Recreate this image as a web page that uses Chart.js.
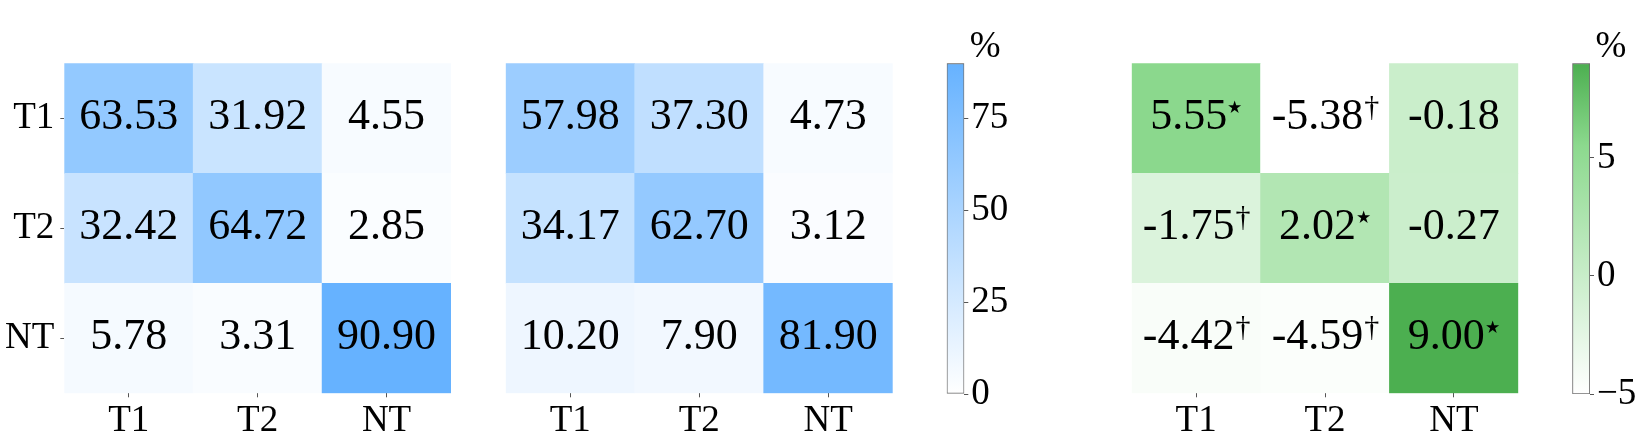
<!DOCTYPE html>
<html>
<head>
<meta charset="utf-8">
<script src="https://cdn.jsdelivr.net/npm/chart.js@4.4.1/dist/chart.umd.min.js"></script>
<style>
  body { margin: 0; background: #fff; }
  #wrap { position: relative; width: 1644px; height: 442px; }
  canvas { position: absolute; top: 0; }
</style>
</head>
<body>
<div id="wrap">
  <canvas id="heatA" width="470" height="442" style="left:0px"></canvas>
  <canvas id="heatB" width="430" height="442" style="left:470px"></canvas>
  <canvas id="barA" width="110" height="442" style="left:930px"></canvas>
  <canvas id="heatD" width="420" height="442" style="left:1110px"></canvas>
  <canvas id="barD" width="94" height="442" style="left:1550px"></canvas>
</div>
<script>
var rows = ["T1", "T2", "NT"];
var cols = ["T1", "T2", "NT"];

var valsA = [[63.53, 31.92, 4.55], [32.42, 64.72, 2.85], [5.78, 3.31, 90.90]];
var valsB = [[57.98, 37.30, 4.73], [34.17, 62.70, 3.12], [10.20, 7.90, 81.90]];
var valsDiff = [[5.55, -5.38, -0.18], [-1.75, 2.02, -0.27], [-4.42, -4.59, 9.00]];
var marksDiff = [["\u22C6", "\u2020", ""], ["\u2020", "\u22C6", ""], ["\u2020", "\u2020", "\u22C6"]];

var blueRange = [0, 90];
var greenRange = [-5, 9];
var blueTicks = [0, 25, 50, 75];
var greenTicks = [-5, 0, 5];

var FONT = '"Liberation Serif", "DejaVu Serif", serif';
var blueStops = [[0, [255, 255, 255]], [1, [102, 178, 255]]];
var greenStops = [[0, [255, 255, 255]], [0.75, [140, 217, 142]], [1, [76, 175, 80]]];

Chart.defaults.font.family = FONT;
Chart.defaults.color = '#000';

function rgb(c) { return 'rgb(' + c.map(Math.round).join(',') + ')'; }

function colorFor(stops, range, v) {
  var t = (v - range[0]) / (range[1] - range[0]);
  t = Math.max(0, Math.min(1, t));
  for (var i = 1; i < stops.length; i++) {
    if (t <= stops[i][0]) {
      var a = stops[i - 1], b = stops[i];
      var f = (t - a[0]) / (b[0] - a[0]);
      return rgb(a[1].map(function (x, k) { return x + (b[1][k] - x) * f; }));
    }
  }
  return rgb(stops[stops.length - 1][1]);
}

// numbers (and significance marks) in the middle of each cell
var cellText = {
  id: 'cellText',
  afterDatasetsDraw: function (chart) {
    var ctx = chart.ctx;
    chart.data.datasets.forEach(function (ds, di) {
      chart.getDatasetMeta(di).data.forEach(function (el, ci) {
        var cx = el.x, cy = (el.y + el.base) / 2;
        var txt = ds.cellValues[ci].toFixed(2);
        var mark = ds.cellMarks ? ds.cellMarks[ci] : '';
        var isStar = mark === '\u22C6';
        var markFont = (isStar ? '34px ' : '30px ') + FONT;
        ctx.save();
        ctx.fillStyle = '#000';
        ctx.textAlign = 'left';
        ctx.textBaseline = 'alphabetic';
        ctx.font = '44px ' + FONT;
        var w = ctx.measureText(txt).width;
        var sw = 0;
        if (mark) {
          ctx.font = markFont;
          sw = ctx.measureText(mark).width - (isStar ? 6 : 0);
        }
        var x0 = cx - (w + sw) / 2;
        var base = cy + 11;
        ctx.font = '44px ' + FONT;
        ctx.fillText(txt, x0, base);
        if (mark) {
          ctx.font = markFont;
          ctx.fillText(mark, x0 + w + (isStar ? -3 : 1), isStar ? base - 11 : base - 13);
        }
        ctx.restore();
      });
    });
  }
};

var pctLabel = {
  id: 'pctLabel',
  afterDraw: function (chart) {
    var ctx = chart.ctx;
    ctx.save();
    ctx.fillStyle = '#000';
    ctx.font = '37px ' + FONT;
    ctx.textAlign = 'left';
    ctx.textBaseline = 'alphabetic';
    ctx.fillText('%', chart.chartArea.right + 5.5, 56.5);
    ctx.restore();
  }
};

function heatmap(id, vals, range, stops, marks, showY, padL, padR) {
  var n = rows.length;
  var datasets = [];
  for (var r = n - 1; r >= 0; r--) {
    datasets.push({
      label: rows[r],
      data: cols.map(function () { return 1; }),
      cellValues: vals[r],
      cellMarks: marks ? marks[r] : null,
      backgroundColor: vals[r].map(function (v) { return colorFor(stops, range, v); }),
      borderWidth: 0,
      barPercentage: 1,
      categoryPercentage: 1
    });
  }
  new Chart(document.getElementById(id), {
    type: 'bar',
    data: { labels: cols, datasets: datasets },
    options: {
      responsive: false,
      animation: false,
      devicePixelRatio: 1,
      layout: { padding: { left: padL, right: padR, top: 63.3, bottom: 0 } },
      plugins: { legend: { display: false }, tooltip: { enabled: false } },
      scales: {
        x: {
          stacked: true,
          grid: { offset: false, drawOnChartArea: false, tickLength: 4, color: '#555' },
          border: { display: false },
          ticks: { font: { size: 37 }, padding: 2, maxRotation: 0 },
          afterFit: function (s) { s.height = 48.7; }
        },
        y: {
          display: showY,
          stacked: true,
          min: 0,
          max: n,
          grid: { drawOnChartArea: false, tickLength: 4, color: '#555' },
          border: { display: false },
          ticks: {
            font: { size: 37 },
            padding: 6,
            callback: function (v) { return rows[Math.round(n - 0.5 - v)]; }
          },
          afterBuildTicks: function (s) {
            s.ticks = rows.map(function (r, i) { return { value: n - i - 0.5 }; });
          },
          afterFit: function (s) { s.width = showY ? 64.3 : 0; }
        }
      }
    },
    plugins: [cellText]
  });
}

function colorbar(id, range, stops, tickVals, padL, axisW) {
  new Chart(document.getElementById(id), {
    type: 'bar',
    data: {
      labels: [''],
      datasets: [{
        data: [range],
        backgroundColor: function (c) {
          var a = c.chart.chartArea;
          if (!a) return null;
          var g = c.chart.ctx.createLinearGradient(0, a.bottom, 0, a.top);
          stops.forEach(function (s) { g.addColorStop(s[0], rgb(s[1])); });
          return g;
        },
        borderColor: '#707070',
        borderWidth: 1.2,
        borderSkipped: false,
        barPercentage: 1,
        categoryPercentage: 1
      }]
    },
    options: {
      responsive: false,
      animation: false,
      devicePixelRatio: 1,
      layout: { padding: { left: padL, right: 0, top: 63.3, bottom: 48 } },
      plugins: { legend: { display: false }, tooltip: { enabled: false } },
      scales: {
        x: { display: false },
        y: {
          position: 'right',
          min: range[0],
          max: range[1],
          grid: { drawOnChartArea: false, tickLength: 4, color: '#555' },
          border: { display: false },
          ticks: {
            font: { size: 37 },
            padding: 3,
            callback: function (v) { return v < 0 ? '\u2212' + Math.abs(v) : String(v); }
          },
          afterBuildTicks: function (s) {
            s.ticks = tickVals.map(function (v) { return { value: v }; });
          },
          afterFit: function (s) { s.width = axisW; }
        }
      }
    },
    plugins: [pctLabel]
  });
}

heatmap('heatA', valsA, blueRange, blueStops, null, true, 0, 19);
heatmap('heatB', valsB, blueRange, blueStops, null, false, 35.7, 7.3);
colorbar('barA', blueRange, blueStops, blueTicks, 16.7, 75.7);
heatmap('heatD', valsDiff, greenRange, greenStops, marksDiff, false, 21.7, 11.7);
colorbar('barD', greenRange, greenStops, greenTicks, 22.3, 54);
</script>
</body>
</html>
